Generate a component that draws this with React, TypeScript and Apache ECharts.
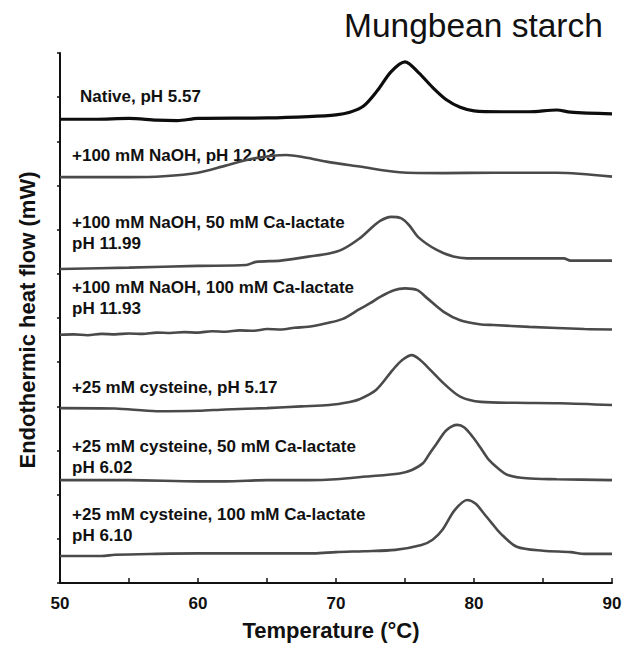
import React, { useEffect, useRef } from 'react';
import * as echarts from 'echarts';

// Temperature (°C) vs stacked heat-flow traces (arbitrary offset units, 1 unit = 1 y tick)
const nativeCurve: [number, number][] = [
  [50, 10.5], [52.5, 10.5], [55, 10.52], [57, 10.48], [58.5, 10.47], [60, 10.52], [65, 10.53], [68, 10.56],
  [70, 10.6], [71, 10.66], [72, 10.8], [73, 11.15], [74, 11.58], [75, 11.8], [76, 11.55], [77, 11.22],
  [78, 10.94], [79, 10.77], [80, 10.69], [82, 10.67], [84, 10.67], [86, 10.71], [87, 10.66], [90, 10.62],
];
const naohCurve: [number, number][] = [
  [50, 9.19], [55, 9.19], [57.5, 9.21], [60, 9.29], [62, 9.45], [64, 9.61], [66.4, 9.69], [67.5, 9.65],
  [69.3, 9.54], [71.7, 9.43], [74.6, 9.3], [77.8, 9.28], [81.4, 9.29], [86, 9.29], [90, 9.2],
];
const naohCa50Curve: [number, number][] = [
  [50, 7.11], [55, 7.14], [60, 7.18], [63.5, 7.2], [64.2, 7.27], [66, 7.3], [68, 7.39], [69.5, 7.46],
  [70.5, 7.56], [71.7, 7.8], [72.5, 8.02], [73.2, 8.2], [74, 8.29], [74.7, 8.26], [75.3, 8.1], [76, 7.82],
  [77.3, 7.54], [78.5, 7.39], [79.5, 7.35], [82, 7.35], [86.5, 7.35], [87, 7.3], [90, 7.3],
];
const naohCa100Curve: [number, number][] = [
  [50, 5.62], [51, 5.63], [52, 5.61], [53, 5.64], [54, 5.63], [55, 5.65], [56, 5.64], [57, 5.67], [58, 5.66],
  [59, 5.68], [60, 5.67], [61, 5.7], [62, 5.69], [63, 5.72], [64, 5.71], [65, 5.75], [66, 5.74], [67, 5.78],
  [68, 5.8], [69.3, 5.88], [70.5, 5.98], [71.7, 6.2], [72.5, 6.34], [73.2, 6.48], [74.2, 6.63], [75, 6.67],
  [75.9, 6.63], [76.6, 6.45], [77.8, 6.14], [79, 5.95], [80.4, 5.86], [81.4, 5.84], [84, 5.8], [88, 5.75], [90, 5.74],
];
const cysCurve: [number, number][] = [
  [50, 3.96], [54, 3.95], [57, 3.89], [60, 3.9], [62, 3.93], [65, 3.96], [67.5, 4.0], [69.5, 4.03], [71, 4.1],
  [71.7, 4.16], [72.9, 4.37], [74.1, 4.82], [74.8, 5.05], [75.5, 5.16], [76.1, 5.05], [76.6, 4.9], [77.8, 4.52],
  [79, 4.22], [80.5, 4.1], [83, 4.08], [86.2, 4.07], [90, 4.03],
];
const cysCa50Curve: [number, number][] = [
  [50, 2.33], [55, 2.33], [60, 2.3], [62, 2.3], [65, 2.33], [68, 2.33], [70, 2.35], [72.2, 2.41], [74.6, 2.48],
  [75.5, 2.56], [76.3, 2.71], [76.8, 2.94], [77.3, 3.16], [78, 3.46], [78.8, 3.58], [79.3, 3.52], [79.9, 3.31],
  [80.5, 3.05], [81.1, 2.78], [81.8, 2.58], [82.4, 2.45], [83.8, 2.37], [86, 2.35], [90, 2.33],
];
const cysCa100Curve: [number, number][] = [
  [50, 0.61], [53, 0.61], [54, 0.64], [57, 0.66], [60, 0.67], [65, 0.67], [68.4, 0.67], [70, 0.7], [72, 0.72],
  [74.3, 0.75], [76.2, 0.86], [77, 0.98], [77.7, 1.2], [78.6, 1.65], [79.5, 1.88], [80.1, 1.8], [80.7, 1.58],
  [81.3, 1.35], [81.9, 1.13], [83.1, 0.82], [85, 0.73], [87, 0.7], [88, 0.66], [90, 0.66],
];

const seriesNames = [
  'Native, pH 5.57',
  '+100 mM NaOH, pH 12.03',
  '+100 mM NaOH, 50 mM Ca-lactate pH 11.99',
  '+100 mM NaOH, 100 mM Ca-lactate pH 11.93',
  '+25 mM cysteine, pH 5.17',
  '+25 mM cysteine, 50 mM Ca-lactate pH 6.02',
  '+25 mM cysteine, 100 mM Ca-lactate pH 6.10',
];
const seriesData = [nativeCurve, naohCurve, naohCa50Curve, naohCa100Curve, cysCurve, cysCa50Curve, cysCa100Curve];

// Annotation text lines for each curve
const labelLines: string[][] = [
  ['Native, pH 5.57'],
  ['+100 mM NaOH, pH 12.03'],
  ['+100 mM NaOH, 50 mM Ca-lactate', 'pH 11.99'],
  ['+100 mM NaOH, 100 mM Ca-lactate', 'pH 11.93'],
  ['+25 mM cysteine, pH 5.17'],
  ['+25 mM cysteine, 50 mM Ca-lactate', 'pH 6.02'],
  ['+25 mM cysteine, 100 mM Ca-lactate', 'pH 6.10'],
];
const labelPos: { x: number; y: number }[] = [
  { x: 80, y: 96 },
  { x: 72, y: 155 },
  { x: 72, y: 222 },
  { x: 72, y: 287 },
  { x: 72, y: 387 },
  { x: 72, y: 446 },
  { x: 72, y: 514 },
];

const xTicks = [50, 60, 70, 80, 90];
const titleText = 'Mungbean starch';
const xTitle = 'Temperature (°C)';
const yTitle = 'Endothermic heat flow (mW)';

const FONT = '"Liberation Sans", Arial, Helvetica, sans-serif';

export default function App() {
  const ref = useRef<HTMLDivElement>(null);
  useEffect(() => {
    if (!ref.current) return;
    const chart = echarts.init(ref.current, null, { renderer: 'svg' });
    const graphics: any[] = [];
    labelLines.forEach((lines, i) => {
      lines.forEach((t, j) => {
        graphics.push({
          type: 'text',
          x: labelPos[i].x,
          y: labelPos[i].y + j * 21,
          z: 1,
          style: {
            text: t,
            fontFamily: FONT,
            fontSize: 17,
            fontWeight: 'bold',
            fill: '#111',
            align: 'left',
            verticalAlign: 'middle',
          },
        });
      });
    });
    graphics.push({
      type: 'text',
      x: 344,
      y: 25,
      style: {
        text: titleText,
        fontFamily: FONT,
        fontSize: 33.5,
        fill: '#111',
        align: 'left',
        verticalAlign: 'middle',
      },
    });
    graphics.push({
      type: 'text',
      x: 331,
      y: 630,
      style: {
        text: xTitle,
        fontFamily: FONT,
        fontSize: 22,
        fontWeight: 'bold',
        fill: '#111',
        align: 'center',
        verticalAlign: 'middle',
      },
    });
    graphics.push({
      type: 'text',
      x: 27,
      y: 320,
      rotation: Math.PI / 2,
      style: {
        text: yTitle,
        fontFamily: FONT,
        fontSize: 22,
        fontWeight: 'bold',
        fill: '#111',
        align: 'center',
        verticalAlign: 'middle',
      },
    });

    chart.setOption({
      animation: false,
      backgroundColor: '#fff',
      grid: { left: 60, right: 15, top: 53, bottom: 67, containLabel: false },
      xAxis: {
        type: 'value',
        min: 50,
        max: 90,
        interval: 5,
        axisLine: { show: true, lineStyle: { color: '#111', width: 2 } },
        axisTick: { show: true, inside: true, length: 5, lineStyle: { color: '#111', width: 1.5 } },
        splitLine: { show: false },
        axisLabel: {
          show: true,
          margin: 12,
          fontFamily: FONT,
          fontSize: 17,
          fontWeight: 'bold',
          color: '#111',
          showMinLabel: true,
          showMaxLabel: true,
          formatter: (v: number) => (xTicks.includes(v) ? String(v) : ''),
        },
      },
      yAxis: {
        type: 'value',
        min: 0,
        max: 12,
        interval: 1,
        axisLine: { show: true, lineStyle: { color: '#111', width: 2 } },
        axisTick: { show: true, inside: false, length: 3, lineStyle: { color: '#111', width: 1.5 } },
        splitLine: { show: false },
        axisLabel: { show: false },
      },
      series: seriesData.map((d, i) => ({
        name: seriesNames[i],
        type: 'line',
        data: d,
        showSymbol: false,
        smooth: 0.3,
        z: 3,
        lineStyle: { color: i === 0 ? '#0d0d0d' : '#4a4a4a', width: i === 0 ? 3.2 : 2.6 },
      })),
      graphic: graphics,
    });
    return () => chart.dispose();
  }, []);
  return <div ref={ref} style={{ position: 'fixed', left: 0, top: 0, width: 627, height: 650 }} />;
}
